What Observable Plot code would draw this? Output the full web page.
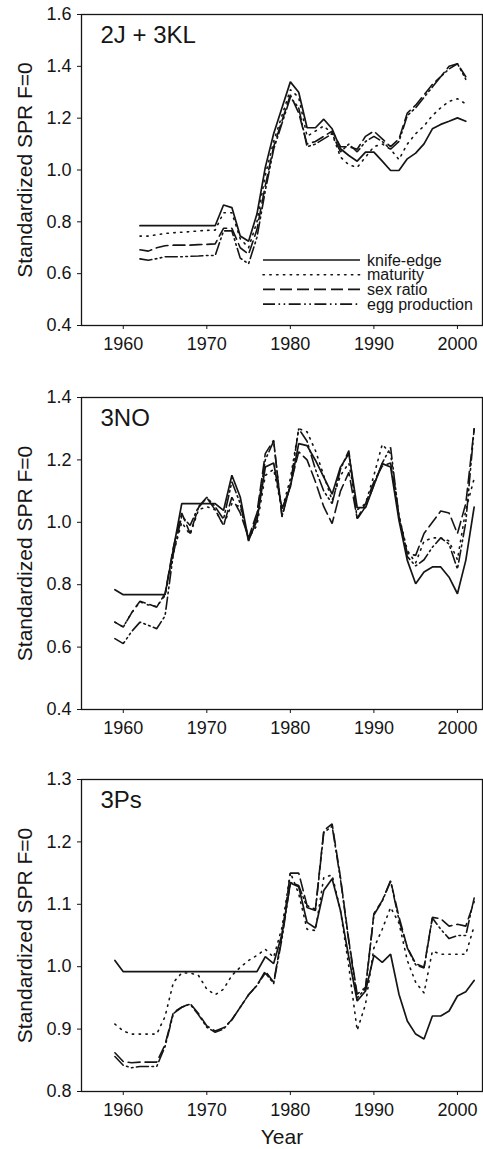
<!DOCTYPE html>
<html><head><meta charset="utf-8">
<script src="https://cdn.jsdelivr.net/npm/d3@7"></script>
<script src="https://cdn.jsdelivr.net/npm/@observablehq/plot@0.6"></script>
<style>
html,body{margin:0;padding:0;background:#fff;}
#chart{width:483px;}
#chart svg{display:block;}
</style></head><body><div id="chart"></div>
<script>
// ---------- DATA ----------
const seriesNames = ["knife-edge", "maturity", "sex ratio", "egg production"];
const yearTicks = [1960, 1970, 1980, 1990, 2000];
const yLabel = "Standardized SPR F=0";
const xLabel = "Year";

// Panel 1: 2J + 3KL
const label1 = "2J + 3KL";
const years1 = [1962,1963,1964,1965,1966,1967,1968,1969,1970,1971,1972,1973,1974,1975,1976,1977,1978,1979,1980,1981,1982,1983,1984,1985,1986,1987,1988,1989,1990,1991,1992,1993,1994,1995,1996,1997,1998,1999,2000,2001];
const knife1 = [0.785,0.785,0.785,0.785,0.785,0.785,0.785,0.785,0.785,0.785,0.865,0.855,0.745,0.725,0.83,1.01,1.14,1.24,1.34,1.30,1.163,1.163,1.196,1.159,1.082,1.056,1.034,1.069,1.069,1.034,0.998,0.998,1.043,1.065,1.101,1.159,1.176,1.188,1.201,1.188];
const maturity1 = [0.745,0.745,0.75,0.755,0.758,0.76,0.762,0.765,0.767,0.768,0.835,0.835,0.735,0.70,0.80,0.98,1.11,1.21,1.31,1.28,1.13,1.15,1.17,1.14,1.05,1.02,1.01,1.05,1.09,1.10,1.08,1.04,1.10,1.14,1.17,1.21,1.24,1.265,1.275,1.255];
const sexratio1 = [0.692,0.687,0.70,0.708,0.71,0.71,0.71,0.712,0.713,0.715,0.775,0.775,0.70,0.675,0.77,0.94,1.09,1.19,1.29,1.22,1.10,1.11,1.13,1.15,1.09,1.09,1.08,1.13,1.15,1.12,1.09,1.12,1.22,1.25,1.29,1.33,1.36,1.40,1.41,1.36];
const egg1 = [0.657,0.652,0.658,0.665,0.665,0.665,0.667,0.668,0.67,0.67,0.765,0.765,0.66,0.638,0.74,0.92,1.08,1.18,1.28,1.24,1.09,1.10,1.12,1.14,1.07,1.10,1.07,1.11,1.13,1.11,1.08,1.11,1.21,1.24,1.28,1.32,1.36,1.39,1.41,1.35];
const yTicks1 = [0.4,0.6,0.8,1.0,1.2,1.4,1.6];

// Panel 2: 3NO
const label2 = "3NO";
const years2 = [1959,1960,1961,1962,1963,1964,1965,1966,1967,1968,1969,1970,1971,1972,1973,1974,1975,1976,1977,1978,1979,1980,1981,1982,1983,1984,1985,1986,1987,1988,1989,1990,1991,1992,1993,1994,1995,1996,1997,1998,1999,2000,2001,2002];
const knife2 = [0.784,0.768,0.768,0.768,0.768,0.768,0.768,0.915,1.06,1.06,1.06,1.06,1.06,1.038,1.151,1.081,0.942,1.006,1.177,1.19,1.044,1.113,1.252,1.246,1.199,1.145,1.09,1.177,1.22,1.047,1.047,1.119,1.188,1.177,1.006,0.878,0.803,0.841,0.857,0.857,0.824,0.771,0.878,1.049];
const maturity2 = [0.68,0.665,0.71,0.745,0.735,0.73,0.765,0.90,1.00,0.96,1.04,1.05,1.04,0.99,1.06,1.05,0.95,0.99,1.15,1.17,1.04,1.14,1.30,1.29,1.23,1.15,1.07,1.15,1.19,1.04,1.06,1.15,1.25,1.22,1.02,0.91,0.87,0.94,0.95,0.95,0.94,0.88,1.04,1.14];
const sexratio2 = [0.68,0.664,0.71,0.747,0.738,0.728,0.771,0.92,1.03,0.964,1.047,1.079,1.04,0.99,1.08,1.03,0.95,1.03,1.22,1.263,1.017,1.12,1.226,1.20,1.13,1.05,0.996,1.10,1.16,1.012,1.06,1.13,1.18,1.19,1.02,0.90,0.894,0.964,1.00,1.036,1.03,0.964,1.06,1.30];
const egg2 = [0.627,0.611,0.65,0.68,0.67,0.659,0.70,0.90,1.02,0.99,1.05,1.08,1.05,1.01,1.13,1.06,0.94,1.02,1.20,1.26,1.02,1.12,1.30,1.26,1.17,1.10,1.06,1.17,1.23,1.01,1.05,1.12,1.19,1.24,1.02,0.89,0.86,0.88,0.92,0.95,0.93,0.85,1.00,1.30];
const yTicks2 = [0.4,0.6,0.8,1.0,1.2,1.4];

// Panel 3: 3Ps
const label3 = "3Ps";
const years3 = [1959,1960,1961,1962,1963,1964,1965,1966,1967,1968,1969,1970,1971,1972,1973,1974,1975,1976,1977,1978,1979,1980,1981,1982,1983,1984,1985,1986,1987,1988,1989,1990,1991,1992,1993,1994,1995,1996,1997,1998,1999,2000,2001,2002];
const knife3 = [1.01,0.992,0.992,0.992,0.992,0.992,0.992,0.992,0.992,0.992,0.992,0.992,0.992,0.992,0.992,0.992,0.992,0.992,1.016,1.005,1.052,1.134,1.128,1.071,1.062,1.122,1.141,1.09,1.015,0.945,0.961,1.018,1.007,1.020,0.956,0.913,0.892,0.884,0.921,0.921,0.929,0.953,0.96,0.978];
const maturity3 = [0.908,0.897,0.892,0.892,0.892,0.892,0.92,0.975,0.99,0.99,0.986,0.964,0.955,0.964,0.986,0.999,1.01,1.018,1.028,1.015,1.063,1.151,1.117,1.06,1.058,1.143,1.147,1.09,1.00,0.898,0.94,1.03,1.06,1.095,1.07,1.01,0.975,0.958,1.025,1.02,1.02,1.02,1.02,1.065];
const sexratio3 = [0.862,0.848,0.846,0.847,0.847,0.847,0.875,0.927,0.935,0.941,0.925,0.905,0.897,0.902,0.915,0.935,0.955,0.97,0.993,0.975,1.05,1.15,1.15,1.098,1.092,1.218,1.229,1.143,1.042,0.956,0.967,1.085,1.106,1.138,1.08,1.031,1.005,0.999,1.079,1.077,1.065,1.068,1.065,1.104];
const egg3 = [0.856,0.842,0.838,0.84,0.84,0.84,0.872,0.925,0.935,0.94,0.923,0.903,0.895,0.90,0.915,0.935,0.955,0.97,0.99,0.973,1.045,1.135,1.13,1.095,1.09,1.215,1.225,1.14,1.04,0.95,0.965,1.083,1.105,1.137,1.075,1.03,1.003,0.998,1.078,1.06,1.045,1.05,1.05,1.11];
const yTicks3 = [0.8,0.9,1.0,1.1,1.2,1.3];

// ---------- STYLE ----------
const ink = "#151515";
const font = "'Liberation Sans', Arial, Helvetica, sans-serif";
const lineStyles = {
  "knife-edge":     {strokeWidth: 1.7, strokeDasharray: null},
  "maturity":       {strokeWidth: 1.6, strokeDasharray: "1.4,5.4", strokeLinecap: "round"},
  "sex ratio":      {strokeWidth: 1.6, strokeDasharray: "12,5"},
  "egg production": {strokeWidth: 1.6, strokeDasharray: "12,3.5,1.6,3.5,1.6,3.5"}
};

function tidy(years, arrays) {
  const rows = [];
  seriesNames.forEach((name, k) => {
    years.forEach((yr, i) => rows.push({series: name, year: yr, value: arrays[k][i]}));
  });
  return rows;
}

function panel({label, years, arrays, yDomain, yTicks, height, marginTop, marginBottom, showX}) {
  const rows = tidy(years, arrays);
  const marks = [
    Plot.frame({stroke: ink, strokeWidth: 1.3}),
    Plot.axisX({ticks: yearTicks, tickFormat: d => String(d), tickSize: 4, tickPadding: 8, label: null, fontSize: 18, stroke: ink}),
    Plot.axisY({ticks: yTicks, tickFormat: d3.format(".1f"), tickSize: 4, tickPadding: 6, label: null, fontSize: 18, stroke: ink}),
    ...seriesNames.map(name => Plot.line(rows.filter(r => r.series === name), {
      x: "year", y: "value", stroke: ink, strokeLinejoin: "miter", ...lineStyles[name]
    })),
    Plot.text([label], {text: d => d, frameAnchor: "top-left", dx: 19, dy: 21, textAnchor: "start", lineAnchor: "middle", fontSize: 24, fill: ink}),
    Plot.text([yLabel], {text: d => d, frameAnchor: "left", dx: -56, rotate: -90, textAnchor: "middle", lineAnchor: "middle", fontSize: 21, fill: ink})
  ];
  if (showX) marks.push(Plot.text([xLabel], {text: d => d, frameAnchor: "bottom", dy: 46, textAnchor: "middle", lineAnchor: "middle", fontSize: 21, fill: ink}));
  return Plot.plot({
    width: 483, height, marginLeft: 81, marginRight: 1, marginTop, marginBottom,
    style: {fontFamily: font, fontSize: "18px", background: "#fff", color: ink},
    x: {domain: [1955, 2003]},
    y: {domain: yDomain},
    marks
  });
}

const chart = document.getElementById("chart");
const p1 = panel({label: label1, years: years1, arrays: [knife1, maturity1, sexratio1, egg1], yDomain: [0.4, 1.6], yTicks: yTicks1, height: 370, marginTop: 14, marginBottom: 45});
const p2 = panel({label: label2, years: years2, arrays: [knife2, maturity2, sexratio2, egg2], yDomain: [0.4, 1.4], yTicks: yTicks2, height: 383, marginTop: 27, marginBottom: 44});
const p3 = panel({label: label3, years: years3, arrays: [knife3, maturity3, sexratio3, egg3], yDomain: [0.8, 1.3], yTicks: yTicks3, height: 396, marginTop: 26, marginBottom: 58, showX: true});
chart.append(p1, p2, p3);

// Legend inside panel 1
const lg = d3.select(p1).append("g")
  .attr("font-family", font).attr("font-size", 16).attr("fill", ink)
  .attr("text-anchor", "start");
seriesNames.forEach((name, i) => {
  const y = 260 + i * 14.7;
  const s = lineStyles[name];
  lg.append("line").attr("x1", 263).attr("x2", 360).attr("y1", y).attr("y2", y)
    .attr("stroke", ink).attr("stroke-width", s.strokeWidth)
    .attr("stroke-dasharray", s.strokeDasharray)
    .attr("stroke-linecap", s.strokeLinecap || null);
  lg.append("text").attr("x", 367).attr("y", y).attr("dy", "0.35em")
    .attr("text-anchor", "start").text(name);
});
</script></body></html>
